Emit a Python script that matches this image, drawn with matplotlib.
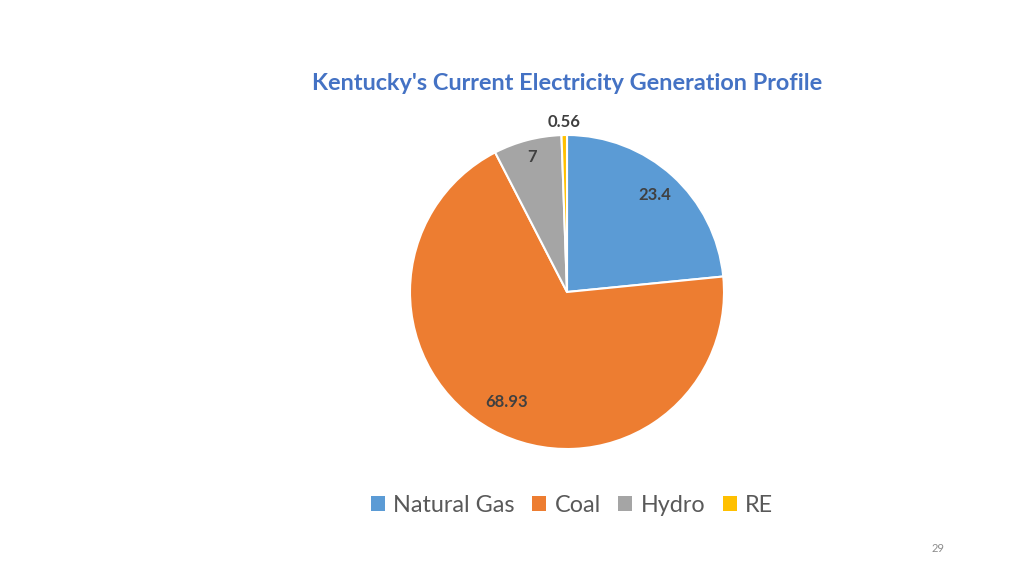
import numpy as np
import matplotlib
matplotlib.use("Agg")
import matplotlib.pyplot as plt
from matplotlib.patches import Rectangle

categories = ["Natural Gas", "Coal", "Hydro", "RE"]
values = [23.4, 68.93, 7, 0.56]
value_labels = ["23.4", "68.93", "7", "0.56"]
colors = ["#5B9BD5", "#ED7D31", "#A5A5A5", "#FFC000"]
label_radius = [0.83, 0.80, 0.89, 1.08]

plt.rcParams['font.family'] = ['Lato', 'DejaVu Sans']

W, H = 1024, 576
fig = plt.figure(figsize=(W / 100, H / 100), dpi=100)
fig.patch.set_facecolor("white")

cx, cy, r = 567, 284, 157
half = r * 1.2
ax = fig.add_axes([(cx - half) / W, (cy - half) / H, 2 * half / W, 2 * half / H])
wedges, _ = ax.pie(values, colors=colors, startangle=90, counterclock=False,
                   radius=1.0, wedgeprops=dict(edgecolor="white", linewidth=1.5))
ax.set_xlim(-1.2, 1.2)
ax.set_ylim(-1.2, 1.2)
ax.set_aspect("equal")
ax.axis("off")

for w, lab, rr in zip(wedges, value_labels, label_radius):
    ang = np.deg2rad((w.theta1 + w.theta2) / 2)
    ax.text(rr * np.cos(ang), rr * np.sin(ang), lab, ha="center", va="center",
            fontsize=12, fontweight="bold", color="#404040")

fig.text(567 / W, 1 - 84 / H, "Kentucky's Current Electricity Generation Profile",
         ha="center", va="center", fontsize=16.9, fontweight="bold", color="#4472C4")

handles = [Rectangle((0, 0), 1, 1, facecolor=c, edgecolor="none") for c in colors]
leg = fig.legend(handles, categories, loc="center", bbox_to_anchor=(572 / W, 1 - 505 / H),
                 ncol=4, frameon=False, fontsize=16.8, handlelength=0.6, handleheight=0.6,
                 handletextpad=0.35, columnspacing=0.75)
for t in leg.get_texts():
    t.set_color("#595959")

fig.text(938 / W, 1 - 549 / H, "29", ha="center", va="center", fontsize=8, color="#8C8C8C")

fig.savefig("out.png", dpi=100)
